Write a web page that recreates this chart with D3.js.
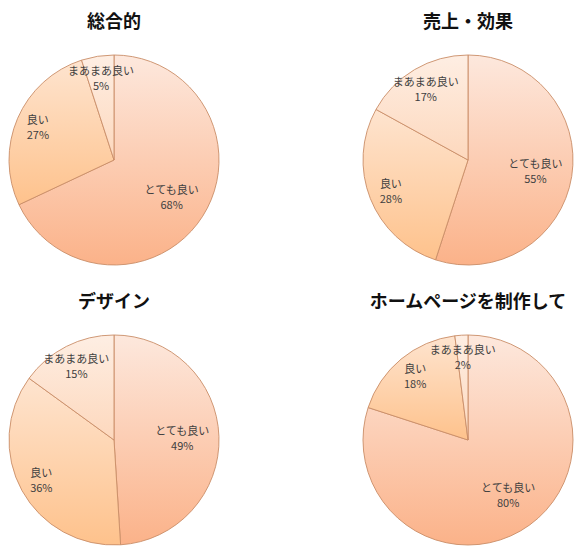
<!DOCTYPE html>
<html>
<head>
<meta charset="utf-8">
<script src="https://cdn.jsdelivr.net/npm/d3@7"></script>
<style>
  body { margin: 0; background: #fff; }
  svg { display: block; }
</style>
</head>
<body>
<div id="chart"></div>
<script>
// survey results, percent
var categories = ["とても良い", "良い", "まあまあ良い"];
var titles = ["総合的", "売上・効果", "デザイン", "ホームページを制作して"];
var sogo = [68, 27, 5];
var uriage = [55, 28, 17];
var design = [49, 36, 15];
var homepage = [80, 18, 2];
var allValues = [sogo, uriage, design, homepage];

var width = 579, height = 553;
var radius = 105;

var svg = d3.select("#chart")
    .append("svg")
    .attr("width", width)
    .attr("height", height);

// gradient per category (top light -> bottom orange)
var grads = [
    ["#fde8dd", "#fbb289"],
    ["#fee4cf", "#fec28c"],
    ["#feeee3", "#fdd8bd"]
];
var defs = svg.append("defs");
grads.forEach(function(g, i) {
    var lg = defs.append("linearGradient")
        .attr("id", "grad" + i)
        .attr("x1", 0).attr("y1", 0)
        .attr("x2", 0).attr("y2", 1);
    lg.append("stop").attr("offset", "0%").attr("stop-color", g[0]);
    lg.append("stop").attr("offset", "100%").attr("stop-color", g[1]);
});

var colX = d3.scalePoint().domain([0, 1]).range([114, 468]);
var rowY = d3.scalePoint().domain([0, 1]).range([160, 440]);

var pie = d3.pie().sort(null).value(function(d) { return d.value; });
var arc = d3.arc().innerRadius(0).outerRadius(radius);

allValues.forEach(function(vals, k) {
    var data = vals.map(function(v, i) { return {name: categories[i], value: v, idx: i}; });
    var cx = colX(k % 2), cy = rowY(Math.floor(k / 2));

    svg.append("text")
        .attr("x", cx)
        .attr("y", cy - 132)
        .attr("text-anchor", "middle")
        .style("font-family", "'Noto Sans CJK JP', sans-serif")
        .style("font-weight", "bold")
        .style("font-size", "18px")
        .style("fill", "#111")
        .text(titles[k]);

    var g = svg.append("g")
        .attr("transform", "translate(" + cx + "," + cy + ")");

    g.selectAll("path")
        .data(pie(data))
        .enter()
        .append("path")
        .attr("d", arc)
        .attr("fill", function(d) { return "url(#grad" + d.data.idx + ")"; })
        .attr("stroke", "#c98d68")
        .attr("stroke-width", 0.9);

    var labels = g.selectAll(".lbl")
        .data(pie(data))
        .enter()
        .append("text")
        .attr("class", "lbl")
        .attr("transform", function(d) {
            var lr = radius * (d.data.idx === 0 ? 0.65 : 0.79);
            var c = d3.arc().innerRadius(lr).outerRadius(lr).centroid(d);
            return "translate(" + c[0] + "," + c[1] + ")";
        })
        .attr("text-anchor", "middle")
        .style("font-family", "'Noto Sans CJK JP', sans-serif")
        .style("font-size", "11px")
        .style("fill", "#404040");

    labels.append("tspan")
        .attr("x", 0)
        .attr("y", -3)
        .text(function(d) { return d.data.name; });
    labels.append("tspan")
        .attr("x", 0)
        .attr("y", 12)
        .text(function(d) { return d.data.value + "%"; });
});
</script>
</body>
</html>
